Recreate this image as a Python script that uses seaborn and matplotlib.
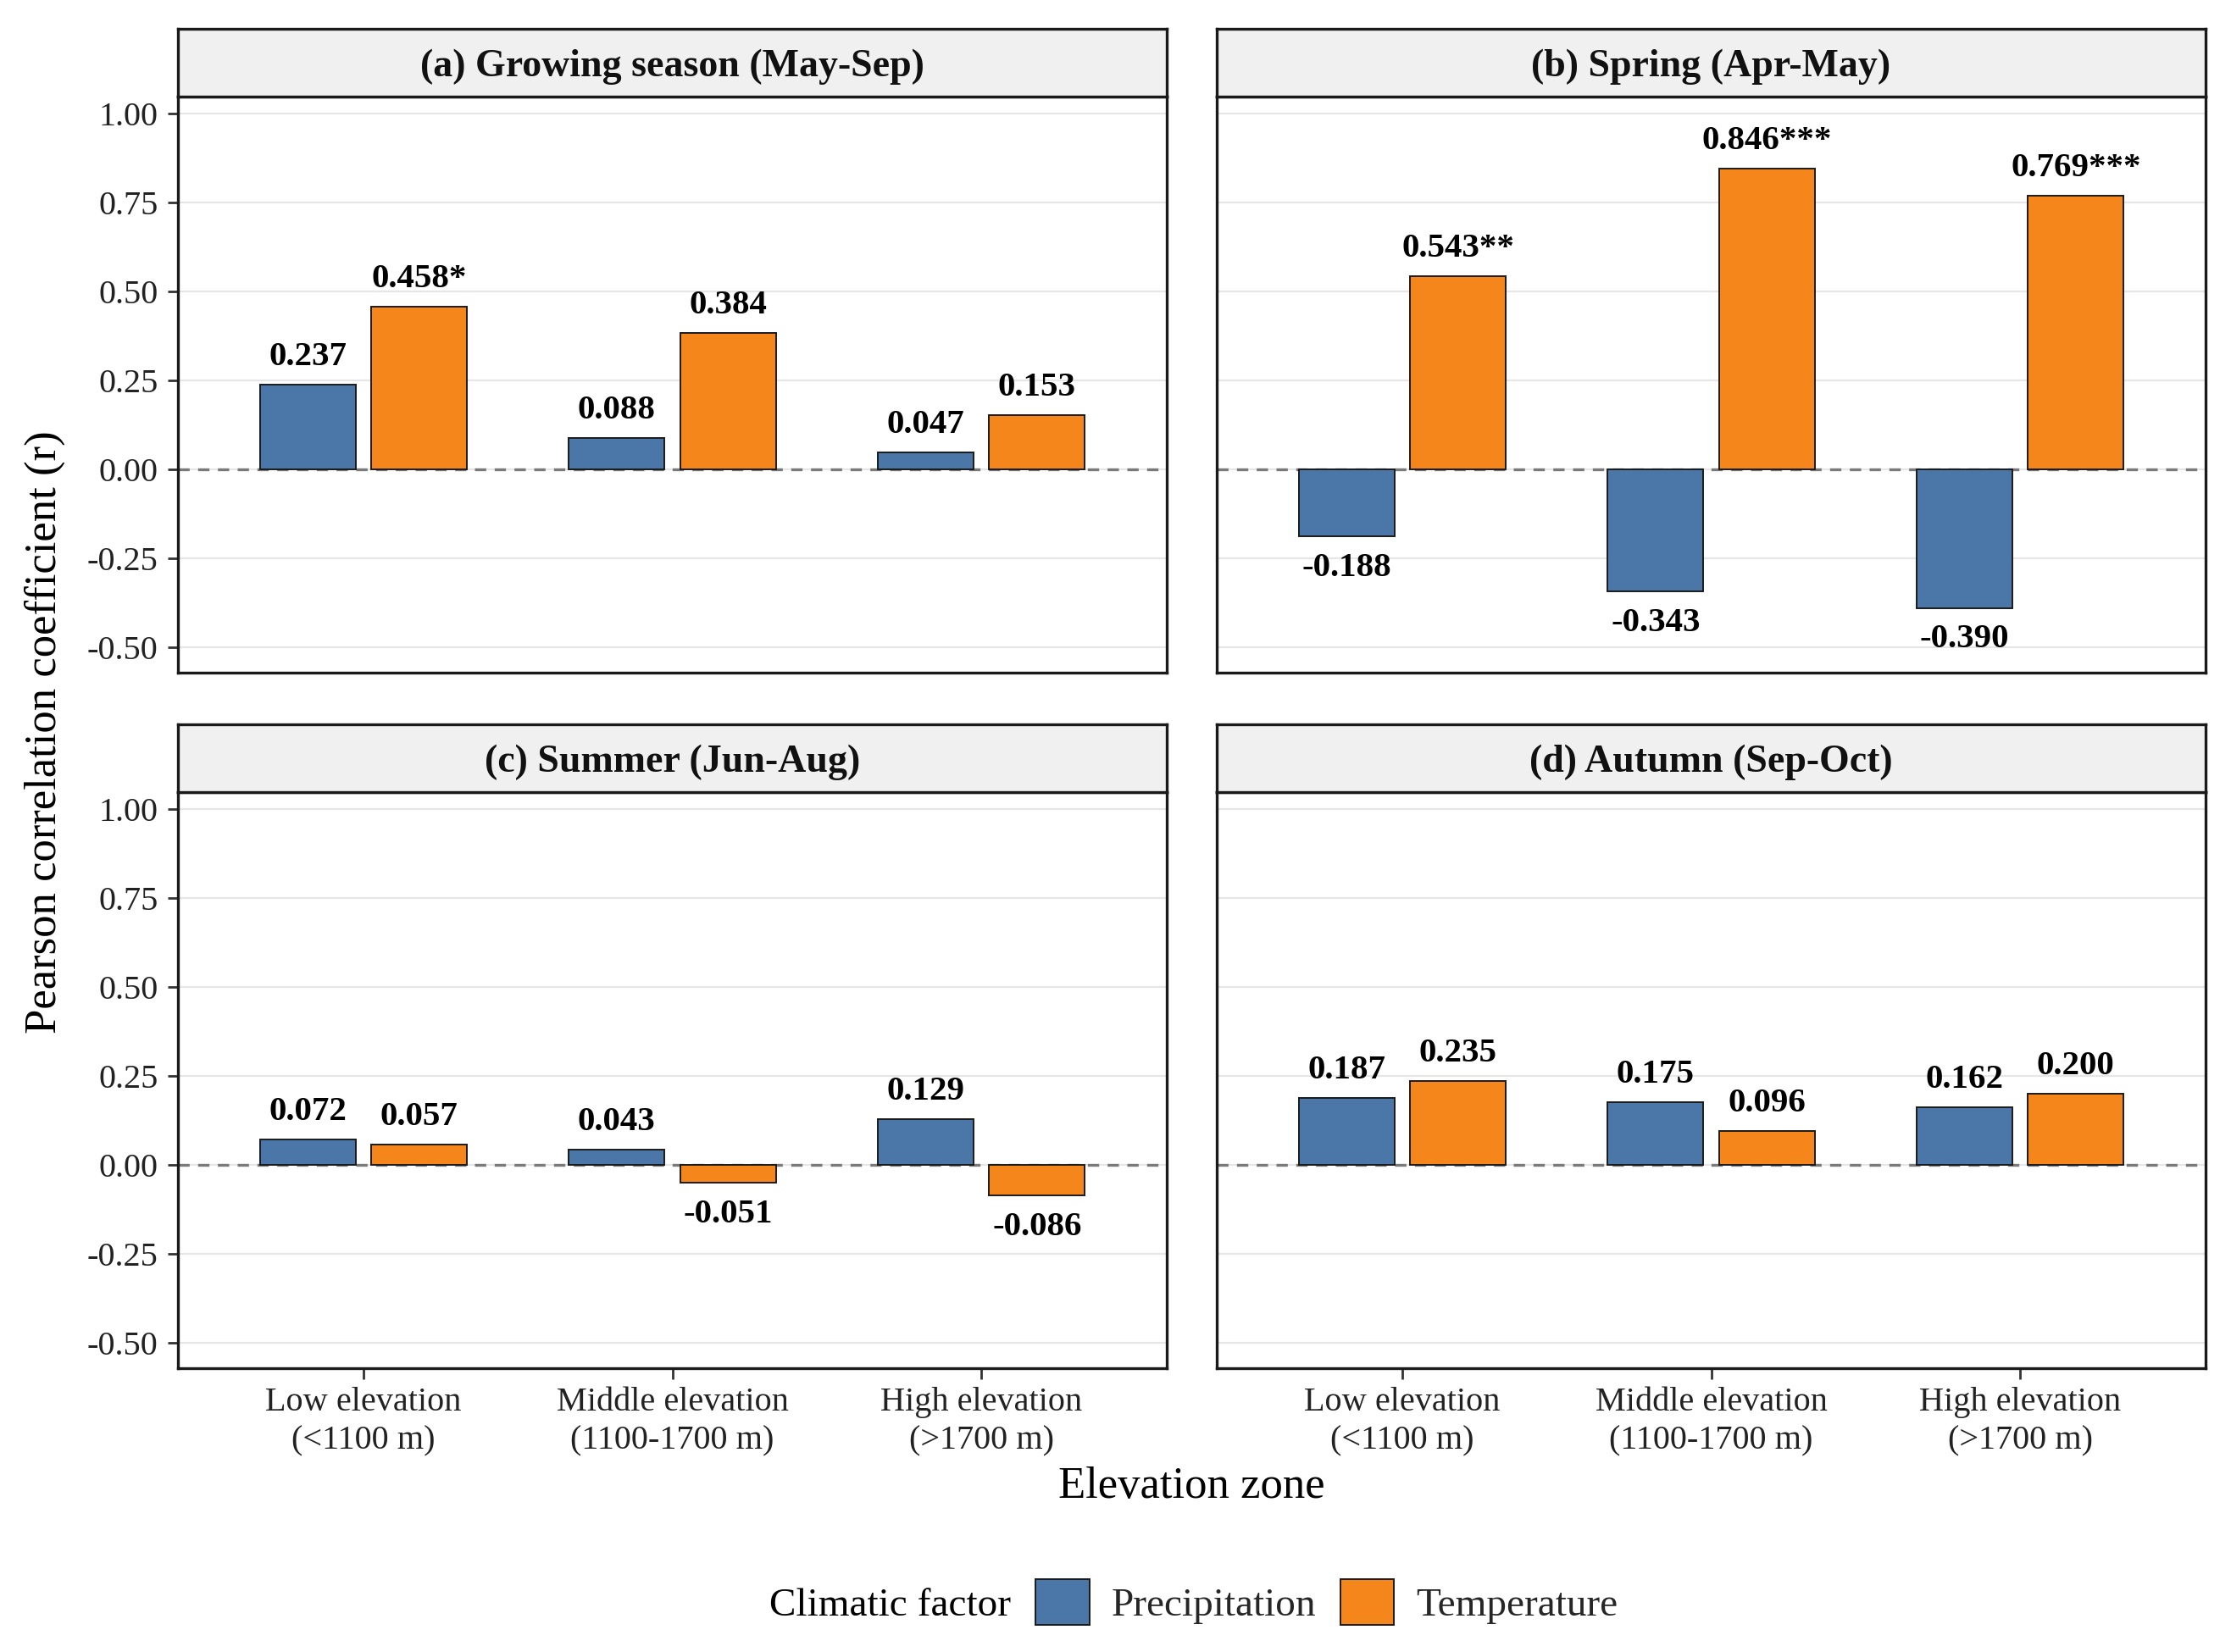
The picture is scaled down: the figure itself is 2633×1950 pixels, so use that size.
import matplotlib
matplotlib.use("Agg")
import matplotlib.pyplot as plt
import numpy as np
import pandas as pd
import seaborn as sns

# values
zones = ["Low elevation\n(<1100 m)", "Middle elevation\n(1100-1700 m)",
         "High elevation\n(>1700 m)"]
factors = ["Precipitation", "Temperature"]
seasons = ["(a) Growing season (May-Sep)", "(b) Spring (Apr-May)",
           "(c) Summer (Jun-Aug)", "(d) Autumn (Sep-Oct)"]

precip_r = [[0.237, 0.088, 0.047],
            [-0.188, -0.343, -0.390],
            [0.072, 0.043, 0.129],
            [0.187, 0.175, 0.162]]
temp_r = [[0.458, 0.384, 0.153],
          [0.543, 0.846, 0.769],
          [0.057, -0.051, -0.086],
          [0.235, 0.096, 0.200]]
precip_lab = [["0.237", "0.088", "0.047"],
              ["-0.188", "-0.343", "-0.390"],
              ["0.072", "0.043", "0.129"],
              ["0.187", "0.175", "0.162"]]
temp_lab = [["0.458*", "0.384", "0.153"],
            ["0.543**", "0.846***", "0.769***"],
            ["0.057", "-0.051", "-0.086"],
            ["0.235", "0.096", "0.200"]]

yticks = [-0.50, -0.25, 0.00, 0.25, 0.50, 0.75, 1.00]
colors = {"Precipitation": "#4A76A8", "Temperature": "#F4861C"}

rows = []
for i, s in enumerate(seasons):
    for j, z in enumerate(zones):
        rows.append([s, z, "Precipitation", precip_r[i][j], precip_lab[i][j]])
        rows.append([s, z, "Temperature", temp_r[i][j], temp_lab[i][j]])
df = pd.DataFrame(rows, columns=["season", "zone", "factor", "r", "label"])

sns.set_theme(style="white")
plt.rcParams["font.family"] = ["Liberation Serif", "DejaVu Serif"]
plt.rcParams["axes.unicode_minus"] = False

W, H = 2633, 1950
fig = plt.figure(figsize=(W / 100, H / 100), dpi=100)

# panel boxes in pixels: left, right, strip top, strip bottom, panel bottom
boxes = [(210, 1377, 34, 114, 794), (1436, 2603, 34, 114, 794),
         (210, 1377, 855, 935, 1615), (1436, 2603, 855, 935, 1615)]

handles = None
for k, s in enumerate(seasons):
    l, r, st, sb, pb = boxes[k]
    ax = fig.add_axes([l / W, 1 - pb / H, (r - l) / W, (pb - sb) / H])
    sax = fig.add_axes([l / W, 1 - sb / H, (r - l) / W, (sb - st) / H])

    sub = df[df["season"] == s]
    ax.grid(True, color="#E6E6E6", lw=1.6)
    ax.set_axisbelow(True)
    ax.axhline(0, color="#7A7A7A", lw=2.4, ls=(0, (4, 3)), zorder=1.5)
    sns.barplot(data=sub, x="zone", y="r", hue="factor", order=zones,
                hue_order=factors, palette=colors, saturation=1,
                width=0.72, gap=0.14, edgecolor="#1A1A1A", linewidth=1.4,
                errorbar=None, legend=(k == 0), ax=ax, zorder=2)
    if k == 0:
        handles, labels = ax.get_legend_handles_labels()
        ax.get_legend().remove()

    for cont, f in zip(ax.containers, factors):
        labs = sub[sub["factor"] == f].set_index("zone").loc[zones, "label"]
        for p, t in zip(cont.patches, labs):
            v = p.get_height()
            xc = p.get_x() + p.get_width() / 2
            if v >= 0:
                ax.text(xc, v + 0.055, t, ha="center", va="baseline",
                        fontsize=29.5, fontweight="bold", color="black")
            else:
                ax.text(xc, v - 0.045, t, ha="center", va="top",
                        fontsize=29.5, fontweight="bold", color="black")

    ax.set_xlim(-0.6, 2.6)
    ax.set_ylim(-0.572, 1.048)
    ax.set_yticks(yticks)
    ax.set_xlabel("")
    ax.set_ylabel("")
    for sp in ax.spines.values():
        sp.set_color("#1A1A1A")
        sp.set_linewidth(2.4)

    left_col = k % 2 == 0
    bottom_row = k >= 2
    ax.tick_params(axis="y", left=left_col, labelleft=left_col, length=9,
                   width=2, color="#333333", labelsize=29, labelcolor="#222222",
                   pad=8)
    ax.tick_params(axis="x", bottom=bottom_row, labelbottom=bottom_row,
                   length=9, width=2, color="#333333", labelsize=29,
                   labelcolor="#222222", pad=7)
    if left_col:
        ax.set_yticklabels(["%.2f" % v for v in yticks])
    if bottom_row:
        for t in ax.get_xticklabels():
            t.set_linespacing(1.3)

    sax.set_facecolor("#F0F0F0")
    sax.set_xticks([])
    sax.set_yticks([])
    for sp in sax.spines.values():
        sp.set_color("#1A1A1A")
        sp.set_linewidth(2.4)
    sax.text(0.5, 0.44, s, transform=sax.transAxes, ha="center", va="center",
             fontsize=33, fontweight="bold", color="#111111")

fig.text(53 / W, 1 - 864 / H, "Pearson correlation coefficient (r)",
         rotation=90, ha="center", va="center", fontsize=38, color="black")
fig.text(1406 / W, 1 - 1755 / H, "Elevation zone", ha="center",
         va="center", fontsize=38, color="black")

fig.text(908 / W, 1 - 1896 / H, "Climatic factor", ha="left", va="center",
         fontsize=34, color="black")
fig.legend(handles, labels, loc="center left",
           bbox_to_anchor=(1222 / W, 1 - 1891 / H), ncol=2, frameon=False,
           fontsize=34, handlelength=1.35, handleheight=1.35,
           handletextpad=0.55, columnspacing=0.6, borderpad=0,
           borderaxespad=0)

plt.savefig("out.png", dpi=100)
plt.close()
